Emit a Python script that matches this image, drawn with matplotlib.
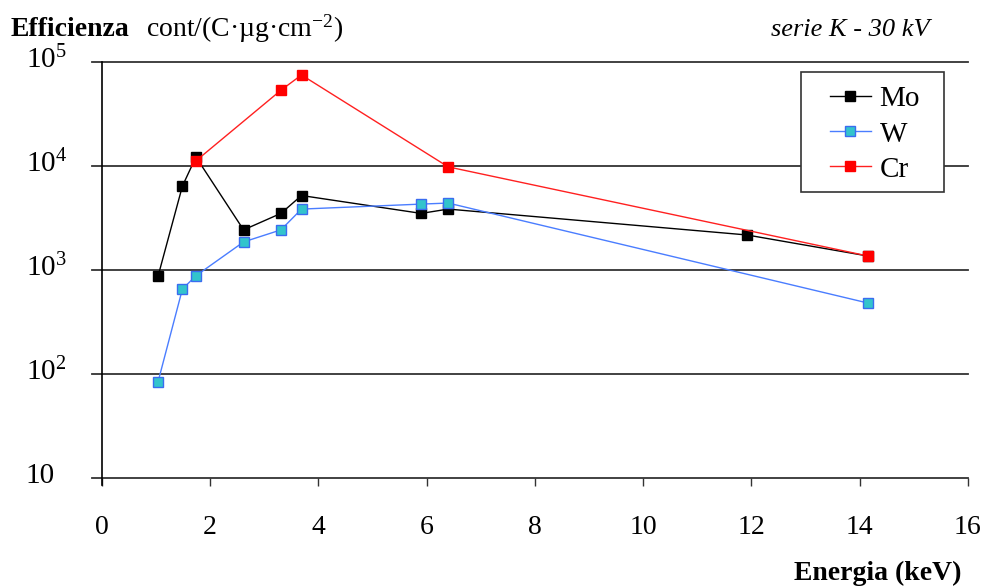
import matplotlib
matplotlib.use("Agg")
import matplotlib.pyplot as plt
from matplotlib.patches import Rectangle
from matplotlib.transforms import blended_transform_factory, ScaledTranslation

plt.rcParams['font.family'] = ['Liberation Serif', 'DejaVu Serif']
plt.rcParams['mathtext.fontset'] = 'custom'
plt.rcParams['mathtext.rm'] = 'Liberation Serif'
plt.rcParams['mathtext.it'] = 'Liberation Serif:italic'

# Data
mo_x = [1.04, 1.49, 1.74, 2.62, 3.31, 3.69, 5.90, 6.40, 11.92, 14.16]
mo_y = [870, 6400, 12200, 2430, 3500, 5200, 3500, 3850, 2170, 1360]
w_x = [1.04, 1.49, 1.74, 2.62, 3.31, 3.69, 5.90, 6.40, 14.16]
w_y = [84, 655, 880, 1860, 2430, 3850, 4300, 4400, 480]
cr_x = [1.74, 3.31, 3.69, 6.40, 14.16]
cr_y = [11200, 53500, 75000, 9800, 1360]

y_ticks = [10, 1e2, 1e3, 1e4, 1e5]
y_labels = ["10", r"$\mathregular{10^{2}}$", r"$\mathregular{10^{3}}$",
            r"$\mathregular{10^{4}}$", r"$\mathregular{10^{5}}$"]
x_ticks = [0, 2, 4, 6, 8, 10, 12, 14, 16]

fig = plt.figure(figsize=(9.81, 5.88), dpi=100)
ax = fig.add_axes([0.1037, 0.1871, 0.9867 - 0.1037, 0.8946 - 0.1871])
ax.set_yscale('log')
ax.set_xlim(0, 16)
ax.set_ylim(10, 1e5)

grid_c = '#333333'
for yv in y_ticks:
    ax.axhline(yv, xmin=-0.011, xmax=1.0, color=grid_c, lw=1.3, clip_on=False, zorder=1)

ms = 6.5
ax.plot(mo_x, mo_y, color='black', lw=1.0, marker='s', ms=ms,
        mfc='black', mec='black', label='Mo', zorder=3)
ax.plot(w_x, w_y, color='#4a7dff', lw=1.0, marker='s', ms=ms,
        mfc='#33c4cc', mec='#3a6cf0', mew=1.0, label='W', zorder=3)
ax.plot(cr_x, cr_y, color='#ff2020', lw=1.0, marker='s', ms=ms,
        mfc='#ff0000', mec='#ff0000', label='Cr', zorder=4)

for s in ['top', 'right', 'bottom']:
    ax.spines[s].set_visible(False)
ax.spines['left'].set_color('black')
ax.spines['left'].set_linewidth(1.2)
ax.spines['left'].set_bounds(8.5, 1e5)

ax.set_yticks([])
ax.yaxis.set_minor_locator(matplotlib.ticker.NullLocator())
trans = blended_transform_factory(ax.transAxes, ax.transData)
off = ScaledTranslation(0, 2 / 100, fig.dpi_scale_trans)
for yv, lab in zip(y_ticks, y_labels):
    ax.text(-0.088, yv, lab, transform=trans + off, ha='left', va='center',
            fontsize=21)

ax.set_xticks(x_ticks)
ax.set_xticklabels([str(v) for v in x_ticks], fontsize=20)
ax.tick_params(axis='x', direction='out', length=6, width=1.0, color=grid_c, pad=21)

# legend box
box = Rectangle((0.8072, 0.6877), 0.9723 - 0.8072, 0.976 - 0.6877,
                transform=ax.transAxes, facecolor='white', edgecolor='#333333',
                lw=1.2, zorder=5, clip_on=False)
ax.add_patch(box)
leg = ax.legend(loc='upper left', bbox_to_anchor=(0.8407, 0.9424), fontsize=21,
                frameon=False, handlelength=1.4, handletextpad=0.3, borderpad=0,
                labelspacing=0.3, borderaxespad=0)
leg.set_zorder(6)

fig.text(11 / 981, 1 - 29 / 588, "Efficienza", fontsize=20, fontweight='bold',
         ha='left', va='center')
fig.text(146 / 981, 1 - 29 / 588, r"cont/(C·µg·cm$\mathregular{^{-2}}$)", fontsize=20,
         ha='left', va='center')
fig.text(930 / 981, 1 - 30 / 588, "serie K - 30 kV", fontsize=19, style='italic',
         ha='right', va='center')
fig.text(962 / 981, 1 - 573 / 588, "Energia (keV)", fontsize=20, fontweight='bold',
         ha='right', va='center')

fig.savefig('out.png', dpi=100)
